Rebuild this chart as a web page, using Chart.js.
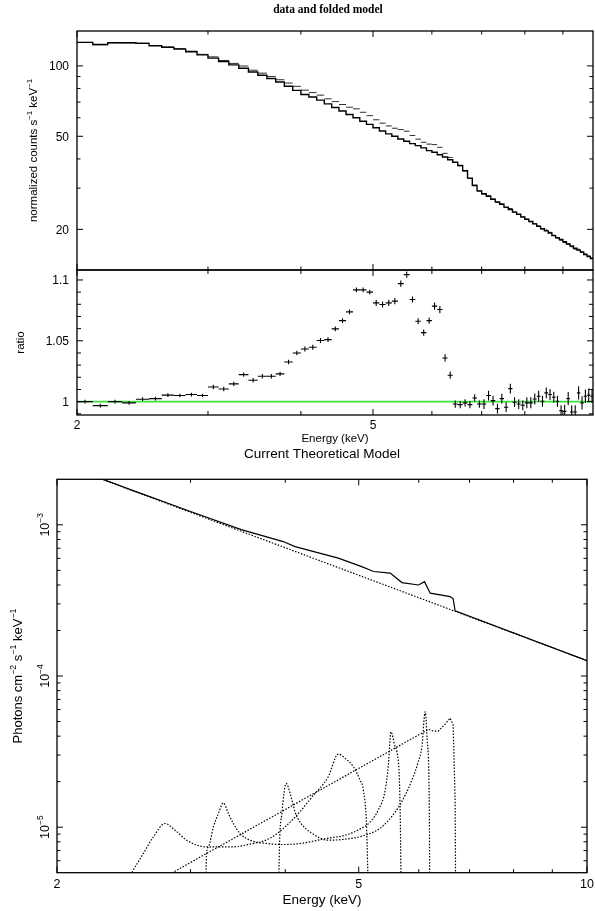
<!DOCTYPE html>
<html>
<head>
<meta charset="utf-8">
<script src="https://cdn.jsdelivr.net/npm/chart.js@4.4.1/dist/chart.umd.min.js"></script>
<style>
  body { margin: 0; background: #fff; }
  #wrap { position: relative; width: 595px; height: 911px; }
  canvas { position: absolute; left: 0; }
</style>
</head>
<body>
<div id="wrap">
  <canvas id="spec" width="595" height="272" style="top:0"></canvas>
  <canvas id="ratio" width="595" height="185" style="top:262px"></canvas>
  <canvas id="model" width="595" height="471" style="top:440px"></canvas>
</div>
<script>
// ---- spectrum: 0.1 keV bins, centres in keV
const energy = [2.05,2.15,2.25,2.35,2.45,2.55,2.65,2.75,2.85,2.95,
  3.05,3.15,3.25,3.35,3.45,3.55,3.65,3.75,3.85,3.95,
  4.05,4.15,4.25,4.35,4.45,4.55,4.65,4.75,4.85,4.95,
  5.05,5.15,5.25,5.35,5.45,5.55,5.65,5.75,5.85,5.95,
  6.05,6.15,6.25,6.35,6.45,6.55,6.65,6.75,6.85,6.95,
  7.05,7.15,7.25,7.35,7.45,7.55,7.65,7.75,7.85,7.95,
  8.05,8.15,8.25,8.35,8.45,8.55,8.65,8.75,8.85,8.95,
  9.05,9.15,9.25,9.35,9.45,9.55,9.65,9.75,9.85];
const binHalf = 0.05;

// folded model, counts s-1 keV-1
const folded = [126.0,123.5,125.6,125.6,124.8,121.9,120.0,118.0,114.9,111.5,
  108.0,104.4,101.0,97.7,94.2,91.2,88.3,85.3,81.8,78.6,
  75.5,73.6,71.4,68.8,66.4,64.1,62.0,60.0,58.0,56.2,
  54.4,52.7,51.2,50.0,48.7,47.6,46.5,45.6,44.6,43.4,
  42.7,41.7,40.8,39.7,38.7,37.5,35.6,33.1,30.8,29.2,
  28.4,27.7,26.9,26.2,25.6,24.9,24.3,23.7,23.2,22.6,
  22.1,21.6,21.1,20.6,20.1,19.7,19.3,18.8,18.4,18.1,
  17.7,17.3,17.0,16.6,16.3,16.0,15.6,15.3,15.0];

// data / model
const ratio = [1.000,0.9967,1.000,0.999,1.002,1.0025,1.0053,1.005,1.0058,1.005,
  1.012,1.0104,1.0146,1.0222,1.0176,1.0209,1.0209,1.0228,1.0326,1.040,
  1.0433,1.0447,1.0502,1.051,1.0598,1.0666,1.0738,1.0919,1.0919,1.090,
  1.0812,1.0798,1.0812,1.0826,1.097,1.1044,1.0839,1.0661,1.0567,1.0666,
  1.0785,1.0757,1.0359,1.0217,0.998,0.9975,0.999,0.9975,1.003,0.998,
  0.998,1.005,1.0008,0.9942,1.0025,0.9954,1.0107,0.9995,0.998,0.997,
  0.999,0.999,1.0022,1.0044,1.0003,1.0072,1.0058,1.0036,1.0003,0.9926,
  0.992,1.0025,0.9915,0.9915,1.0072,0.999,1.0044,1.0053,1.0044];

const ratioErr = [0.0015,0.0015,0.0015,0.0015,0.0015,0.0015,0.0015,0.0015,0.0015,0.0015,
  0.0018,0.0018,0.0018,0.0018,0.0018,0.0018,0.0018,0.0018,0.0018,0.0018,
  0.002,0.002,0.002,0.002,0.002,0.002,0.002,0.002,0.002,0.002,
  0.0025,0.0025,0.0025,0.0025,0.0025,0.0025,0.0025,0.0025,0.0025,0.0025,
  0.003,0.003,0.003,0.003,0.003,0.003,0.003,0.003,0.003,0.003,
  0.004,0.004,0.004,0.004,0.004,0.004,0.004,0.004,0.004,0.004,
  0.0045,0.0045,0.0045,0.0045,0.0045,0.0045,0.0045,0.0045,0.0045,0.0045,
  0.0055,0.0055,0.0055,0.0055,0.0055,0.0055,0.0055,0.0055,0.0055];

// ---- theoretical model, photons cm-2 s-1 keV-1
const contE = [2.0, 10.0];
const contF = [2.59e-3, 1.263e-4];

const totE = [2.0, 2.5, 3.0, 3.5, 3.975, 4.121, 4.699, 5.045, 5.230, 5.502, 5.700, 5.995, 6.105, 6.212, 6.599, 6.660, 6.700, 10.0];
const totF = [2.59e-3, 1.71e-3, 1.225e-3, 9.3e-4, 7.75e-4, 7.18e-4, 6.02e-4, 5.29e-4, 4.91e-4, 4.79e-4, 4.15e-4, 4.0e-4, 4.21e-4, 3.53e-4, 3.35e-4, 3.24e-4, 2.70e-4, 1.263e-4];

// disk lines: red horn, trough, blue horn, cut-off
const lineAE = [2.49, 2.509, 2.599, 2.680, 2.777, 2.862, 2.966, 3.150, 3.382, 3.594, 3.820, 4.121, 4.336, 4.555, 4.699, 4.798, 4.920, 5.019, 5.070, 5.122, 5.174];
const lineAF = [4.6e-6, 4.98e-6, 6.69e-6, 8.62e-6, 1.058e-5, 9.55e-6, 8.20e-6, 7.40e-6, 7.40e-6, 7.72e-6, 8.46e-6, 1.165e-5, 1.580e-5, 2.144e-5, 3.044e-5, 2.851e-5, 2.507e-5, 2.048e-5, 1.758e-5, 9.55e-6, 1e-6];

const lineBE = [3.130, 3.150, 3.167, 3.216, 3.265, 3.315, 3.365, 3.417, 3.487, 3.594, 3.782, 3.978, 4.184, 4.555, 4.798, 5.045, 5.174, 5.304, 5.418, 5.473, 5.513, 5.585, 5.614, 5.671, 5.700];
const lineBF = [1e-6, 6.69e-6, 7.40e-6, 1.005e-5, 1.233e-5, 1.448e-5, 1.233e-5, 1.058e-5, 9.08e-6, 8.20e-6, 7.80e-6, 7.68e-6, 7.80e-6, 8.46e-6, 8.85e-6, 9.85e-6, 1.079e-5, 1.296e-5, 1.758e-5, 2.641e-5, 4.276e-5, 3.402e-5, 3.152e-5, 1.233e-5, 1e-6];

const lineCE = [3.905, 3.930, 3.959, 4.011, 4.060, 4.121, 4.184, 4.336, 4.555, 4.798, 5.045, 5.336, 5.585, 5.758, 5.876, 5.989, 6.057, 6.118, 6.155, 6.193, 6.212];
const lineCF = [1e-6, 7.40e-6, 1.233e-5, 1.947e-5, 1.671e-5, 1.257e-5, 1.079e-5, 9.13e-6, 8.20e-6, 8.33e-6, 8.72e-6, 9.85e-6, 1.257e-5, 1.629e-5, 2.048e-5, 2.694e-5, 3.402e-5, 5.801e-5, 3.769e-5, 1.509e-5, 1e-6];

// broad line: straight red wing up to the horn
const lineDE = [2.834, 6.180, 6.269, 6.365, 6.501, 6.599, 6.660, 6.700, 6.721];
const lineDF = [4.98e-6, 4.436e-5, 4.323e-5, 4.323e-5, 4.808e-5, 5.270e-5, 4.736e-5, 1.509e-5, 1e-6];

const SANS = '"Liberation Sans", Arial, sans-serif';

// text with optional superscript pieces: segs = ['plain', ['-1', true], ...]
function drawRich(ctx, segs, x, y, size, align, rot) {
  ctx.save();
  ctx.translate(x, y);
  if (rot) ctx.rotate(rot);
  const parts = segs.map(s => {
    const t = Array.isArray(s) ? s[0] : s;
    const sup = Array.isArray(s) ? s[1] : false;
    const fs = sup ? size * 0.68 : size;
    ctx.font = fs + 'px ' + SANS;
    return { t, sup, fs, w: ctx.measureText(t).width };
  });
  const total = parts.reduce((a, p) => a + p.w, 0);
  let cx = align === 'center' ? -total / 2 : align === 'right' ? -total : 0;
  ctx.textAlign = 'left';
  ctx.textBaseline = 'alphabetic';
  ctx.fillStyle = '#000';
  const base = size * 0.36;
  parts.forEach(p => {
    ctx.font = p.fs + 'px ' + SANS;
    ctx.fillText(p.t, cx, p.sup ? base - size * 0.42 : base);
    cx += p.w;
  });
  ctx.restore();
}

// box, inward ticks on all four sides, and the labels
const frame = {
  id: 'frame',
  afterDatasetsDraw(chart, args, o) {
    const { ctx, chartArea: a } = chart;
    const xs = chart.scales.x, ys = chart.scales.y;
    const midX = (a.left + a.right) / 2, midY = (a.top + a.bottom) / 2;
    ctx.save();
    ctx.strokeStyle = '#000';
    ctx.lineWidth = 1;
    ctx.beginPath();
    const xt = (list, len) => list.forEach(v => {
      const p = xs.getPixelForValue(v);
      ctx.moveTo(p, a.bottom); ctx.lineTo(p, a.bottom - len);
      ctx.moveTo(p, a.top); ctx.lineTo(p, a.top + len);
    });
    const yt = (list, len) => list.forEach(v => {
      const p = ys.getPixelForValue(v);
      ctx.moveTo(a.left, p); ctx.lineTo(a.left + len, p);
      ctx.moveTo(a.right, p); ctx.lineTo(a.right - len, p);
    });
    xt(o.xMajor, o.major); xt(o.xMinor, o.minor);
    yt(o.yMajor, o.major); yt(o.yMinor, o.minor);
    ctx.stroke();
    ctx.lineWidth = 1.3;
    ctx.strokeRect(a.left, a.top, a.right - a.left, a.bottom - a.top);

    (o.xLabels || []).forEach(([v, t]) =>
      drawRich(ctx, [t], xs.getPixelForValue(v), a.bottom + o.xGap, o.size, 'center'));
    (o.yLabels || []).forEach(([v, segs]) => {
      const p = ys.getPixelForValue(v);
      if (o.yRot) drawRich(ctx, segs, a.left - o.yGap, p, o.size, 'center', -Math.PI / 2);
      else drawRich(ctx, segs, a.left - o.yGap, p, o.size, 'right');
    });
    (o.texts || []).forEach(t => {
      const x = t.x === 'mid' ? midX : t.x;
      const y = t.y === 'mid' ? midY : (t.fromBottom !== undefined ? a.bottom + t.fromBottom : t.y);
      if (t.font) {
        ctx.font = t.font; ctx.fillStyle = '#000';
        ctx.textAlign = 'center'; ctx.textBaseline = 'middle';
        ctx.fillText(t.segs[0], x, y);
      } else {
        drawRich(ctx, t.segs, x, y, t.size, 'center', t.rot ? -Math.PI / 2 : 0);
      }
    });
    ctx.restore();
  }
};
Chart.register(frame);

function baseOptions(pad, xr, yr, yType, deco) {
  return {
    responsive: false, animation: false, devicePixelRatio: 1,
    layout: { padding: pad },
    plugins: { legend: { display: false }, tooltip: { enabled: false }, frame: deco },
    scales: {
      x: { type: 'logarithmic', min: xr[0], max: xr[1], display: false },
      y: { type: yType, min: yr[0], max: yr[1], display: false }
    },
    elements: { point: { radius: 0 } }
  };
}

// horizontal bin-width bars and vertical error bars, broken with nulls
function hBars(vals) {
  const pts = [];
  energy.forEach((e, i) => {
    pts.push({ x: e - binHalf, y: vals[i] }, { x: e + binHalf, y: vals[i] }, { x: e + binHalf, y: null });
  });
  return pts;
}
function vBars(vals, errs) {
  const pts = [];
  energy.forEach((e, i) => {
    pts.push({ x: e, y: vals[i] - errs[i] }, { x: e, y: vals[i] + errs[i] }, { x: e, y: null });
  });
  return pts;
}
const zip = (xs, ys) => xs.map((x, i) => ({ x, y: ys[i] }));

const counts = energy.map((e, i) => folded[i] * ratio[i]);
const countsErr = energy.map((e, i) => folded[i] * ratioErr[i]);

const stepPts = energy.map((e, i) => ({ x: e - binHalf, y: folded[i] }));
stepPts.push({ x: energy[energy.length - 1] + binHalf, y: folded[folded.length - 1] });

const xMinor = [3, 4, 6, 7, 8, 9];

new Chart(document.getElementById('spec'), {
  type: 'line',
  data: {
    datasets: [
      { data: stepPts, stepped: 'before', borderColor: '#000', borderWidth: 1.4 },
      { data: hBars(counts), borderColor: '#333', borderWidth: 1 },
      { data: vBars(counts, countsErr), borderColor: '#333', borderWidth: 1 }
    ]
  },
  options: baseOptions({ left: 77, right: 2, top: 31, bottom: 2 }, [2, 9.88], [13.4, 141], 'logarithmic', {
    xMajor: [2, 5], xMinor, yMajor: [20, 50, 100], yMinor: [30, 40, 60, 70, 80, 90],
    major: 6, minor: 3.5, size: 12, yGap: 8,
    yLabels: [[100, ['100']], [50, ['50']], [20, ['20']]],
    texts: [
      { segs: ['data and folded model'], x: 328, y: 10, font: 'bold 11.5px "Liberation Serif", serif' },
      { segs: ['normalized counts s', ['\u22121', true], ' keV', ['\u22121', true]], x: 33, y: 'mid', size: 11.5, rot: true }
    ]
  })
});

new Chart(document.getElementById('ratio'), {
  type: 'line',
  data: {
    datasets: [
      { data: hBars(ratio), borderColor: '#000', borderWidth: 1.1 },
      { data: vBars(ratio, ratioErr), borderColor: '#000', borderWidth: 1.1 },
      { data: [{ x: 2, y: 1 }, { x: 9.88, y: 1 }], borderColor: 'rgb(60,225,60)', borderWidth: 1.6 }
    ]
  },
  options: baseOptions({ left: 77, right: 2, top: 8, bottom: 32 }, [2, 9.88], [0.989, 1.1082], 'linear', {
    xMajor: [2, 5], xMinor, yMajor: [1, 1.05, 1.1], yMinor: [0.99, 1.01, 1.02, 1.03, 1.04, 1.06, 1.07, 1.08, 1.09],
    major: 6, minor: 4, size: 12, yGap: 8, xGap: 9.7,
    xLabels: [[2, '2'], [5, '5']],
    yLabels: [[1.1, ['1.1']], [1.05, ['1.05']], [1, ['1']]],
    texts: [
      { segs: ['Energy (keV)'], x: 'mid', fromBottom: 23, size: 11.5 },
      { segs: ['ratio'], x: 20, y: 'mid', size: 11.5, rot: true }
    ]
  })
});

const dotted = { borderColor: '#000', borderWidth: 1.2, borderDash: [1.5, 1.6], clip: 0 };
const smooth = { cubicInterpolationMode: 'monotone' };

new Chart(document.getElementById('model'), {
  type: 'line',
  data: {
    datasets: [
      { data: zip(totE, totF), borderColor: '#000', borderWidth: 1.2, clip: 0 },
      { data: zip(contE, contF), ...dotted },
      { data: zip(lineAE, lineAF), ...dotted, ...smooth },
      { data: zip(lineBE, lineBF), ...dotted, ...smooth },
      { data: zip(lineCE, lineCF), ...dotted, ...smooth },
      { data: zip(lineDE, lineDF), ...dotted }
    ]
  },
  options: baseOptions({ left: 57, right: 8, top: 39.3, bottom: 38.3 }, [2, 10], [5e-6, 2e-3], 'logarithmic', {
    xMajor: [2, 5, 10], xMinor,
    yMajor: [1e-5, 1e-4, 1e-3],
    yMinor: [6e-6, 7e-6, 8e-6, 9e-6, 2e-5, 3e-5, 4e-5, 5e-5, 6e-5, 7e-5, 8e-5, 9e-5,
             2e-4, 3e-4, 4e-4, 5e-4, 6e-4, 7e-4, 8e-4, 9e-4],
    major: 6, minor: 3.5, size: 12.5, yGap: 13, yRot: true, xGap: 10.8,
    xLabels: [[2, '2'], [5, '5'], [10, '10']],
    yLabels: [[1e-3, ['10', ['\u22123', true]]], [1e-4, ['10', ['\u22124', true]]], [1e-5, ['10', ['\u22125', true]]]],
    texts: [
      { segs: ['Current Theoretical Model'], x: 'mid', y: 13.5, size: 13.5 },
      { segs: ['Energy (keV)'], x: 'mid', fromBottom: 26.3, size: 13.5 },
      { segs: ['Photons cm', ['\u22122', true], ' s', ['\u22121', true], ' keV', ['\u22121', true]], x: 17, y: 'mid', size: 13, rot: true }
    ]
  })
});
</script>
</body>
</html>
